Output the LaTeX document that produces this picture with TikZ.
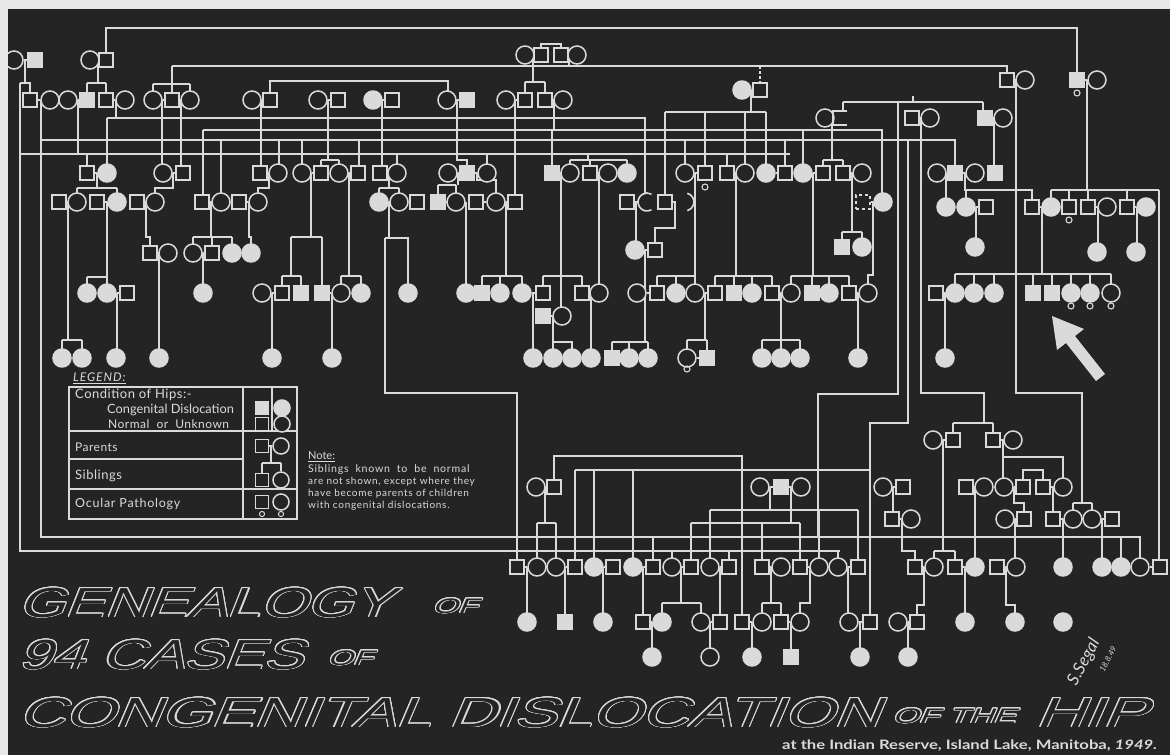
\documentclass[tikz,border=0pt]{standalone}
\usepackage{fontspec}
\usepackage[copies]{contour}
\setmainfont{Lato}
\newfontfamily\titlef{Liberation Sans}[FakeSlant=0.28]
\newfontfamily\handf{Lato}
\definecolor{bgc}{RGB}{36,36,36}
\definecolor{fg}{RGB}{218,218,218}
\definecolor{marg}{RGB}{232,232,232}
\contourlength{0.75pt}
\contournumber{20}
\pgfdeclarelayer{back}\pgfdeclarelayer{lines}
\pgfsetlayers{back,lines,main}
\tikzset{
 ln/.style={draw=fg,line width=1.6pt,line join=miter},
 symq/.style={rectangle,draw=fg,fill=bgc,line width=1.5pt,minimum size=14pt,inner sep=0pt},
 symQ/.style={symq,fill=fg},
 symc/.style={circle,draw=fg,fill=bgc,line width=1.5pt,minimum size=18pt,inner sep=0pt},
 symC/.style={symc,fill=fg},
 symd/.style={symq,dashed},
 txt/.style={text=fg,inner sep=0pt,anchor=west},
 ttl/.style={inner sep=0pt,anchor=base west},
}
\newcommand\Sy[3]{\edef\tmpa{\noexpand\node[sym#1] (N#2x#3) at (#2,#3) {};}\tmpa}
\newcommand\Cl[3]{\draw[ln] (N#1x#3.east) -- (N#2x#3.west);}
\newcommand\Ttl[1]{\contour{fg}{\textcolor{bgc}{#1}}}
\begin{document}
\begin{tikzpicture}[x=1pt,y=-1pt]
\useasboundingbox (0,0) rectangle (1170,755);
\begin{pgfonlayer}{back}
\fill[bgc] (0,0) rectangle (1170,755);
\end{pgfonlayer}
% ---------------- symbols
\foreach \t/\x in {c/14,Q/35,c/90,q/106} {\Sy{\t}{\x}{60}}
\foreach \t/\x in {c/525,q/541,q/561,c/577} {\Sy{\t}{\x}{55}}
\foreach \t/\x in {q/1007,c/1025,Q/1077,c/1097} {\Sy{\t}{\x}{80}}
\foreach \t/\x in {q/30,c/50,c/68,Q/87,q/106,c/125,c/153,q/172,c/190,c/252,q/270,c/318,q/338,C/373,q/392,c/447,Q/467,c/506,q/525,q/545,c/563} {\Sy{\t}{\x}{100}}
\foreach \t/\x in {C/742,q/760} {\Sy{\t}{\x}{90}}
\foreach \t/\x in {c/825,q/912,c/930,Q/985,c/1003} {\Sy{\t}{\x}{118}}
\foreach \t/\x in {q/87,C/107,c/163,q/183,q/260,c/278,c/302,q/321,c/339,q/358,q/380,c/397,c/448,Q/467,c/487,Q/552,c/570,q/590,c/608,C/627,c/685,q/705,q/727,c/745,C/766,q/785,C/803,q/823,q/843,c/862,c/937,Q/955,c/975,Q/995} {\Sy{\t}{\x}{173}}
\foreach \t/\x in {q/59,c/77,q/97,C/117,q/137,c/155,q/202,c/221,q/239,c/258,C/379,c/399,q/417,Q/438,c/456,q/476,c/496,q/515,q/627,q/665,d/863,C/883} {\Sy{\t}{\x}{202}}
\foreach \t/\x in {C/946,C/966,q/986,q/1032,C/1051,q/1069,q/1088,c/1107,q/1127,C/1146} {\Sy{\t}{\x}{207}}
\foreach \t/\x in {q/150,c/168,c/193,q/212,C/232,C/251} {\Sy{\t}{\x}{253}}
\foreach \t/\x in {C/635,q/655} {\Sy{\t}{\x}{250}}
\foreach \t/\x in {Q/842,C/862,C/975} {\Sy{\t}{\x}{247}}
\foreach \t/\x in {C/1097,C/1136} {\Sy{\t}{\x}{252}}
\foreach \t/\x in {C/87,C/107,q/127,C/203,c/262,q/282,Q/301,Q/322,c/341,C/361,C/408,C/466,Q/482,C/500,C/522,q/543,q/582,c/599,c/637,q/657,C/676,c/695,q/715,Q/734,C/752,q/772,c/791,Q/812,C/829,q/849,c/868,q/936,C/955,C/974,C/994,Q/1033,Q/1052,C/1071,C/1090,c/1111} {\Sy{\t}{\x}{293}}
\foreach \t/\x in {Q/543,c/562} {\Sy{\t}{\x}{316}}
\foreach \t/\x in {C/62,C/82,C/116,C/159,C/272,C/332,C/533,C/553,C/572,C/591,Q/612,C/629,C/648,c/687,Q/707,C/762,C/781,C/800,C/858,C/945} {\Sy{\t}{\x}{358}}
\foreach \t/\x in {c/933,q/953,q/993,c/1013} {\Sy{\t}{\x}{440}}
\foreach \t/\x in {c/536,q/554,c/760,Q/781,c/801,c/883,q/903,q/966,c/984,c/1004,q/1023,q/1043,c/1063} {\Sy{\t}{\x}{487}}
\foreach \t/\x in {q/892,c/911,c/1005,q/1024,q/1053,c/1073,c/1092,q/1112} {\Sy{\t}{\x}{519}}
\foreach \t/\x in {q/517,c/537,c/556,q/575,C/594,q/613,C/633,q/653,c/672,q/691,c/710,q/729,q/762,c/781,q/800,c/819,c/838,q/858,q/915,c/934,q/955,C/975,q/997,c/1016,C/1063,C/1102,C/1121,c/1140,q/1160} {\Sy{\t}{\x}{567}}
\foreach \t/\x in {C/527,Q/565,C/603,q/643,C/662,c/701,q/720,q/742,c/762,q/781,c/800,c/849,q/870,c/898,q/917,C/965,C/1015,C/1063} {\Sy{\t}{\x}{622}}
\foreach \t/\x in {C/652,c/710,C/752,Q/791,C/860,C/908} {\Sy{\t}{\x}{657}}
% special symbols
\draw[ln] (847,111) -- (833,111) -- (833,125) -- (847,125);
\draw[ln] (647,202) ++(60:9) arc[start angle=60,end angle=300,radius=9];
\draw[ln] (685,202) ++(-75:9) arc[start angle=-75,end angle=75,radius=9];
\foreach \p in {(1077,93),(705,187),(1069,220),(1071,306),(1090,306),(1111,306),(687,369)} {\draw[ln,line width=1.1pt] \p circle (3);}
% ---------------- connectors
\begin{pgfonlayer}{lines}
\foreach \a/\b in {14/35,90/106} {\Cl{\a}{\b}{60}}
\foreach \a/\b in {525/541,561/577} {\Cl{\a}{\b}{55}}
\foreach \a/\b in {1007/1025,1077/1097} {\Cl{\a}{\b}{80}}
\foreach \a/\b in {30/50,68/87,106/125,153/172,172/190,252/270,318/338,373/392,447/467,506/525,545/563} {\Cl{\a}{\b}{100}}
\Cl{742}{760}{90}
\foreach \a/\b in {912/930,985/1003} {\Cl{\a}{\b}{118}}
\foreach \a/\b in {87/107,163/183,260/278,302/321,339/358,380/397,448/467,467/487,552/570,590/608,685/705,727/745,766/785,803/823,843/862,937/955,955/975} {\Cl{\a}{\b}{173}}
\foreach \a/\b in {59/77,97/117,137/155,202/221,239/258,379/399,399/417,438/456,476/496,496/515,863/883} {\Cl{\a}{\b}{202}}
\foreach \a/\b in {966/986,1032/1051,1088/1107,1127/1146} {\Cl{\a}{\b}{207}}
\foreach \a/\b in {150/168,193/212} {\Cl{\a}{\b}{253}}
\Cl{635}{655}{250}
\foreach \a/\b in {107/127,262/282,322/341,522/543,582/599,637/657,695/715,772/791,849/868,936/955} {\Cl{\a}{\b}{293}}
\Cl{543}{562}{316}
\Cl{687}{707}{358}
\foreach \a/\b in {933/953,993/1013} {\Cl{\a}{\b}{440}}
\foreach \a/\b in {536/554,760/781,781/801,883/903,966/984,1004/1023,1043/1063} {\Cl{\a}{\b}{487}}
\foreach \a/\b in {892/911,1005/1024,1053/1073,1092/1112} {\Cl{\a}{\b}{519}}
\foreach \a/\b in {517/537,556/575,594/613,633/653,672/691,710/729,762/781,800/819,838/858,915/934,955/975,997/1016,1140/1160} {\Cl{\a}{\b}{567}}
\foreach \a/\b in {643/662,701/720,742/762,781/800,849/870,898/917} {\Cl{\a}{\b}{622}}
\draw[ln] (634,202)--(638,202) (672,202)--(676,202) (826,118)--(833,118);
% top generations
\draw[ln] (25,60)--(25,83) (20,83)--(30,83)--(30,93) (20,83)--(20,551)--(840,551);
\draw[ln] (98,60)--(98,83) (87,83)--(106,83) (87,83)--(87,93) (106,83)--(106,93);
\draw[ln] (106,53)--(106,28)--(1077,28)--(1077,73);
\draw[ln] (533,55)--(533,82) (525,82)--(545,82) (525,82)--(525,93) (545,82)--(545,93);
\draw[ln] (541,48)--(541,44)--(561,44)--(561,48);
\draw[ln] (569,55)--(569,66) (172,66)--(1007,66)--(1007,73);
\draw[ln] (172,66)--(172,93) (153,84)--(190,84) (153,84)--(153,91) (190,84)--(190,91);
\draw[ln,dash pattern=on 3pt off 2pt] (760,66)--(760,83);
\draw[ln] (270,93)--(270,81)--(448,81)--(448,91);
\draw[ln] (41,100)--(41,537)--(1140,537)--(1140,558);
% horizontal bands
\draw[ln] (107,118)--(645,118)--(645,193) (116,100)--(116,118) (107,118)--(107,164);
\draw[ln] (203,130)--(882,130)--(882,193) (203,130)--(203,195);
\draw[ln] (41,140)--(955,140)--(955,166);
\draw[ln] (20,154)--(790,154);
% row 2 -> row 3
\draw[ln] (78,100)--(78,154) (162,100)--(162,164) (181,100)--(181,166) (261,100)--(261,166);
\draw[ln] (328,100)--(328,160) (321,160)--(339,160) (321,160)--(321,166) (339,160)--(339,164);
\draw[ln] (382,100)--(382,166) (457,100)--(457,160)--(467,160)--(467,166) (515,100)--(515,195) (554,100)--(554,130);
\draw[ln] (751,90)--(751,112) (665,112)--(766,112) (665,112)--(665,195) (705,112)--(705,166) (745,112)--(745,164) (766,112)--(766,164);
\draw[ln] (87,154)--(87,166) (279,140)--(279,164) (302,140)--(302,164) (359,140)--(359,166) (397,154)--(397,164) (487,154)--(487,164) (552,130)--(552,166);
\draw[ln] (588,154)--(588,160) (570,160)--(627,160) (570,160)--(570,164) (590,160)--(590,166) (627,160)--(627,164);
\draw[ln] (685,140)--(685,164) (727,154)--(727,166) (785,140)--(785,166) (803,130)--(803,164);
\draw[ln] (832,118)--(832,160) (823,160)--(843,160) (823,160)--(823,166) (843,160)--(843,166);
\draw[ln] (843,102)--(983,102) (913,102)--(913,96) (843,102)--(843,111) (983,102)--(983,111);
\draw[ln] (898,102)--(898,394)--(818,394)--(818,537);
\draw[ln] (994,118)--(994,166);
% row 3 -> row 4 and below, left
\draw[ln] (97,173)--(97,188) (77,188)--(117,188) (77,188)--(77,193) (117,188)--(117,193);
\draw[ln] (173,173)--(173,188)--(155,188)--(155,193) (221,140)--(221,193);
\draw[ln] (269,173)--(269,188)--(258,188)--(258,193);
\draw[ln] (389,173)--(389,188) (379,188)--(399,188) (379,188)--(379,193) (399,188)--(399,193);
\draw[ln] (68,202)--(68,340) (62,340)--(82,340) (62,340)--(62,349) (82,340)--(82,349);
\draw[ln] (107,202)--(107,277) (87,277)--(107,277) (87,277)--(87,284) (107,277)--(107,284);
\draw[ln] (117,293)--(117,349) (146,202)--(146,237)--(150,237)--(150,246) (159,253)--(159,349);
\draw[ln] (211,202)--(211,237) (193,237)--(232,237) (193,237)--(193,244) (212,237)--(212,246) (232,237)--(232,244) (203,253)--(203,284);
\draw[ln] (249,202)--(249,237)--(251,237)--(251,244);
\draw[ln] (311,173)--(311,237) (291,237)--(322,237) (291,237)--(291,276) (282,276)--(301,276) (282,276)--(282,286) (301,276)--(301,286) (322,237)--(322,286) (272,293)--(272,349);
\draw[ln] (349,173)--(349,276) (341,276)--(361,276) (341,276)--(341,284) (361,276)--(361,284) (332,293)--(332,349);
\draw[ln] (389,202)--(389,238) (385,238)--(408,238)--(408,284) (385,238)--(385,393)--(517,393)--(517,560);
% middle
\draw[ln] (458,173)--(458,185) (438,185)--(456,185) (438,185)--(438,195) (456,185)--(456,193);
\draw[ln] (477,173)--(477,180)--(496,180)--(496,193) (466,202)--(466,284);
\draw[ln] (506,202)--(506,276) (482,276)--(522,276) (482,276)--(482,286) (500,276)--(500,284) (522,276)--(522,284) (533,293)--(533,349);
\draw[ln] (561,173)--(561,307) (543,276)--(582,276) (543,276)--(543,286) (582,276)--(582,286);
\draw[ln] (553,316)--(553,342)--(572,342)--(572,349) (553,342)--(553,349);
\draw[ln] (599,173)--(599,284) (591,293)--(591,349);
\draw[ln] (636,202)--(636,241) (675,202)--(675,228)--(655,228)--(655,243);
\draw[ln] (645,250)--(645,342) (612,342)--(648,342) (612,342)--(612,351) (629,342)--(629,349) (648,342)--(648,349);
\draw[ln] (695,173)--(695,284) (657,276)--(695,276) (657,276)--(657,286) (676,276)--(676,284);
\draw[ln] (736,173)--(736,276) (715,276)--(772,276) (715,276)--(715,286) (734,276)--(734,286) (752,276)--(752,284) (772,276)--(772,286);
\draw[ln] (813,173)--(813,276) (791,276)--(849,276) (791,276)--(791,284) (812,276)--(812,286) (829,276)--(829,284) (849,276)--(849,286);
\draw[ln] (852,173)--(852,232) (842,232)--(862,232) (842,232)--(842,240) (862,232)--(862,238);
\draw[ln] (873,202)--(873,275)--(868,275)--(868,284);
\draw[ln] (705,293)--(705,340) (687,340)--(707,340) (687,340)--(687,349) (707,340)--(707,351);
\draw[ln] (781,293)--(781,349) (762,340)--(800,340) (762,340)--(762,349) (800,340)--(800,349) (858,293)--(858,349);
% right block
\draw[ln] (946,173)--(946,198) (965,173)--(965,190)--(1032,190)--(1032,200) (966,190)--(966,198) (976,207)--(976,238);
\draw[ln] (1042,207)--(1042,274) (955,274)--(1111,274);
\foreach \x/\y in {955/284,974/284,994/284,1033/286,1052/286,1071/284,1090/284,1111/284} {\draw[ln] (\x,274)--(\x,\y);}
\draw[ln] (945,293)--(945,349);
\draw[ln] (1087,80)--(1087,190) (1051,190)--(1159,190) (1051,190)--(1051,198) (1069,190)--(1069,200) (1088,190)--(1088,200) (1127,190)--(1127,200) (1159,190)--(1159,560);
\draw[ln] (1098,207)--(1098,243) (1137,207)--(1137,243);
\draw[ln] (1016,80)--(1016,393)--(1082,393)--(1082,503) (1073,503)--(1092,503) (1073,503)--(1073,510) (1092,503)--(1092,510);
\draw[ln] (921,118)--(921,393)--(984,393)--(984,423) (953,423)--(993,423) (953,423)--(953,433) (993,423)--(993,433);
\draw[ln] (908,140)--(908,423)--(870,423)--(870,615);
% lower part
\draw[ln] (545,487)--(545,523) (537,523)--(556,523) (537,523)--(537,558) (556,523)--(556,558);
\draw[ln] (554,480)--(554,456)--(742,456)--(742,615);
\draw[ln] (575,470)--(870,470) (575,470)--(575,560) (594,470)--(594,558) (633,470)--(633,558);
\draw[ln] (770,487)--(770,510) (710,510)--(858,510) (710,510)--(710,558) (819,510)--(819,558) (858,510)--(858,560);
\draw[ln] (791,487)--(791,523) (691,523)--(800,523) (691,523)--(691,560) (762,523)--(762,560) (800,523)--(800,560);
\draw[ln] (672,551)--(672,558) (729,551)--(729,560) (838,551)--(838,558) (653,537)--(653,560);
\draw[ln] (527,567)--(527,613) (565,567)--(565,615) (603,567)--(603,613) (643,567)--(643,615);
\draw[ln] (681,567)--(681,603) (662,603)--(701,603) (662,603)--(662,613) (701,603)--(701,613) (720,567)--(720,615);
\draw[ln] (771,567)--(771,603) (762,603)--(781,603) (762,603)--(762,613) (781,603)--(781,615) (810,567)--(810,603)--(800,603)--(800,613) (848,567)--(848,613);
\draw[ln] (652,622)--(652,648) (710,622)--(710,648) (752,622)--(752,648) (791,622)--(791,650) (860,622)--(860,648) (908,622)--(908,648);
\draw[ln] (893,487)--(893,512) (943,440)--(943,551) (934,551)--(955,551) (934,551)--(934,558) (955,551)--(955,560);
\draw[ln] (1003,440)--(1003,478) (1003,457)--(1063,457)--(1063,478);
\draw[ln] (975,487)--(975,558) (1014,487)--(1014,503)--(1024,503)--(1024,512) (1053,487)--(1053,512);
\draw[ln] (1023,480)--(1023,470)--(1043,470)--(1043,480);
\draw[ln] (902,519)--(902,551)--(915,551)--(915,560) (1015,519)--(1015,558) (1063,519)--(1063,558);
\draw[ln] (1102,519)--(1102,558) (1121,537)--(1121,558);
\draw[ln] (924,567)--(924,605)--(917,605)--(917,615) (965,567)--(965,613) (1006,567)--(1006,605)--(1015,605)--(1015,613);
\end{pgfonlayer}
% ---------------- arrow
\fill[fg] (1052,316) -- (1084,329) -- (1075,336) -- (1105,374) -- (1096,381) -- (1066,343) -- (1057,350) -- cycle;
% ---------------- legend
\draw[ln,line width=1.2pt] (69,387) rectangle (297,519) (69,431)--(297,431) (69,459)--(243,459) (69,489)--(297,489) (243,387)--(243,519) (272,387)--(272,431);
\node[symQ,minimum size=13pt] (lgA) at (262,408) {};
\node[symC,minimum size=16pt] (lgB) at (282,408) {};
\node[symq,minimum size=13pt] (lgC) at (262,424) {};
\node[symc,minimum size=16pt] (lgD) at (282,424) {};
\node[symq,minimum size=13pt] (lgE) at (262,446) {};
\node[symc,minimum size=16pt] (lgF) at (281,446) {};
\node[symq,minimum size=13pt] (lgG) at (262,480) {};
\node[symc,minimum size=16pt] (lgH) at (281,480) {};
\node[symq,minimum size=13pt] (lgI) at (262,502) {};
\node[symc,minimum size=16pt] (lgJ) at (281,502) {};
\draw[ln,line width=1.2pt] (lgE.east)--(lgF.west) (271,446)--(271,463) (262,463)--(281,463) (262,463)--(lgG.north) (281,463)--(lgH.north);
\draw[ln,line width=1pt] (262,514) circle (2.6) (281,514) circle (2.6);
\begin{scope}[every node/.style={txt}]
\node at (73,378) {\fontsize{12}{12}\selectfont\itshape\addfontfeature{LetterSpace=8}\underline{LEGEND:}};
\node at (75,395) {\fontsize{13}{13}\selectfont\addfontfeature{LetterSpace=4}Condition of Hips:-};
\node at (107,410) {\fontsize{12.8}{13}\selectfont Congenital Dislocation};
\node at (108,424) {\fontsize{12}{12}\selectfont\addfontfeature{LetterSpace=4}Normal\ \ or\ \ Unknown};
\node at (75,447) {\fontsize{12}{12}\selectfont\addfontfeature{LetterSpace=4}Parents};
\node at (75,476) {\fontsize{13}{13}\selectfont\addfontfeature{LetterSpace=4}Siblings};
\node at (75,504) {\fontsize{12.5}{12.5}\selectfont\addfontfeature{LetterSpace=6}Ocular Pathology};
\node at (308,457) {\fontsize{11}{11}\selectfont\underline{Note:}};
\node[align=left,anchor=north west] at (308,464) {\fontsize{10.6}{12.3}\selectfont\addfontfeature{LetterSpace=7}Siblings\ \ known\ \ to\ \ be\ \ normal\\ \addfontfeature{LetterSpace=7}are not shown, except where they\\ \addfontfeature{LetterSpace=7}have become parents of children\\ \addfontfeature{LetterSpace=7}with congenital dislocations.};
\end{scope}
% ---------------- title
\begin{scope}[every node/.style={ttl}]
\node (t1) at (18,617) {\scalebox{1.42}[1]{\titlef\fontsize{42}{42}\selectfont\Ttl{GENEALOGY}}};
\node (t2) at (432,613) {\scalebox{1.55}[1]{\titlef\fontsize{21}{21}\selectfont\Ttl{OF}}};
\node (t3) at (18,669) {\scalebox{1.42}[1]{\titlef\fontsize{42}{42}\selectfont\Ttl{94 CASES}}};
\node (t4) at (327,665) {\scalebox{1.55}[1]{\titlef\fontsize{21}{21}\selectfont\Ttl{OF}}};
\node (t5) at (18,727) {\scalebox{1.53}[1]{\titlef\fontsize{42}{42}\selectfont\Ttl{CONGENITAL DISLOCATION}}};
\node (t6) at (892,723) {\scalebox{1.6}[1]{\titlef\fontsize{21}{21}\selectfont\Ttl{OF THE}}};
\node (t7) at (1035,727) {\scalebox{1.6}[1]{\titlef\fontsize{42}{42}\selectfont\Ttl{HIP}}};
\node[text=fg] (t8) at (782,749) {\scalebox{1.28}[1]{\handf\bfseries\fontsize{13}{13}\selectfont at the Indian Reserve, Island Lake, Manitoba, {\itshape 1949.}}};
\end{scope}
\node[text=fg,rotate=62,inner sep=0pt] (sig) at (1084,662) {\handf\itshape\fontsize{17}{17}\selectfont S.Segal};
\node[text=fg,rotate=62,inner sep=0pt] (sigd) at (1108,659) {\handf\itshape\fontsize{8}{8}\selectfont 18.8.49};
% margins
\fill[marg] (0,0) rectangle (1170,9);
\fill[marg] (0,0) rectangle (8,755);
\end{tikzpicture}
\end{document}
